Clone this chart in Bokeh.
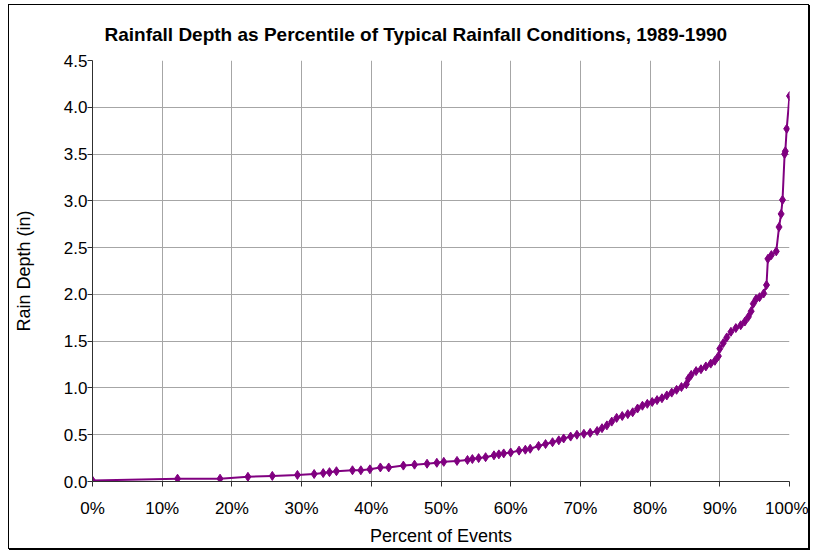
from bokeh.plotting import figure
from bokeh.models import FixedTicker, ColumnDataSource, Range1d
from bokeh.embed import file_html
from bokeh.resources import INLINE

title_text = "Rainfall Depth as Percentile of Typical Rainfall Conditions, 1989-1990"
x_label = "Percent of Events"
y_label = "Rain Depth (in)"

pct = [0.0, 12.2, 18.3, 22.3, 25.8, 29.4, 31.8, 33.1, 34.0, 35.0, 37.3, 38.5, 39.8,
       41.3, 42.5, 44.6, 46.2, 48.0, 49.4, 50.4, 52.3, 53.8, 54.5, 55.4, 56.4, 57.6,
       58.3, 59.0, 60.0, 61.2, 62.1, 62.8, 64.0, 65.0, 66.0, 66.9, 67.6, 68.6, 69.5,
       70.5, 71.4, 72.4, 73.1, 73.8, 74.5, 75.2, 76.0, 76.8, 77.5, 78.2, 78.9, 79.6,
       80.3, 81.0, 81.7, 82.4, 83.1, 83.8, 84.5, 85.2, 85.5, 85.9, 86.6, 87.3, 88.0,
       88.7, 89.3, 89.8, 90.0, 90.5, 91.0, 91.6, 92.3, 93.0, 93.6, 94.1, 94.5, 94.8,
       95.2, 95.7, 96.3, 96.7, 96.9, 97.4, 98.1, 98.5, 98.8, 99.0, 99.3, 99.4, 99.6,
       100.0]
depth = [0.01, 0.03, 0.03, 0.05, 0.06, 0.07, 0.08, 0.09, 0.10, 0.11, 0.12, 0.12, 0.13,
         0.15, 0.15, 0.17, 0.18, 0.19, 0.20, 0.21, 0.22, 0.23, 0.24, 0.25, 0.26, 0.28,
         0.29, 0.30, 0.31, 0.33, 0.34, 0.35, 0.38, 0.40, 0.42, 0.44, 0.46, 0.48, 0.50,
         0.51, 0.52, 0.54, 0.57, 0.60, 0.64, 0.68, 0.70, 0.72, 0.74, 0.78, 0.81, 0.83,
         0.85, 0.87, 0.89, 0.92, 0.95, 0.98, 1.01, 1.04, 1.10, 1.14, 1.18, 1.20, 1.23,
         1.26, 1.29, 1.34, 1.42, 1.48, 1.54, 1.60, 1.64, 1.67, 1.71, 1.76, 1.82, 1.90,
         1.95, 1.97, 2.01, 2.10, 2.38, 2.42, 2.46, 2.72, 2.86, 3.01, 3.50, 3.53, 3.77,
         4.12]

x_ticks = [0, 10, 20, 30, 40, 50, 60, 70, 80, 90, 100]
x_tick_labels = ["0%", "10%", "20%", "30%", "40%", "50%", "60%", "70%", "80%", "90%", "100%"]
y_ticks = [0.0, 0.5, 1.0, 1.5, 2.0, 2.5, 3.0, 3.5, 4.0, 4.5]
y_tick_labels = ["0.0", "0.5", "1.0", "1.5", "2.0", "2.5", "3.0", "3.5", "4.0", "4.5"]

FONT = "Liberation Sans"
PURPLE = "#800080"

p = figure(width=801, height=545, output_backend="svg", toolbar_location=None,
           x_range=Range1d(0, 100), y_range=Range1d(0, 4.5),
           min_border_left=83, min_border_right=21, min_border_top=40, min_border_bottom=69,
           title=title_text)
p.styles = {"border": "1px solid black", "margin": "4px 0 0 8px",
            "box-shadow": "1px 1px 0 black"}
p.outline_line_color = None
p.background_fill_color = "white"
p.border_fill_color = "white"

p.title.text_font = FONT
p.title.text_font_size = "19px"
p.title.text_font_style = "bold"
p.title.text_color = "black"
p.title.align = "left"
p.title.offset = 12
p.title.standoff = 32

src = ColumnDataSource(dict(x=pct, y=depth))
p.line("x", "y", source=src, line_color=PURPLE, line_width=2)
p.scatter("x", "y", source=src, marker="diamond", size=9, fill_color=PURPLE, line_color=PURPLE)

p.xaxis.ticker = FixedTicker(ticks=x_ticks)
p.xaxis.major_label_overrides = {t: l for t, l in zip(x_ticks, x_tick_labels)}
p.yaxis.ticker = FixedTicker(ticks=y_ticks)
p.yaxis.major_label_overrides = {t: l for t, l in zip(y_ticks, y_tick_labels)}

for ax in (p.xaxis[0], p.yaxis[0]):
    ax.axis_line_color = "#303030"
    ax.axis_line_width = 1
    ax.major_tick_line_color = "#303030"
    ax.major_tick_out = 5
    ax.major_tick_in = 0
    ax.minor_tick_line_color = None
    ax.major_label_text_font = FONT
    ax.major_label_text_font_size = "17px"
    ax.major_label_text_color = "black"
    ax.axis_label_text_font = FONT
    ax.axis_label_text_font_size = "18px"
    ax.axis_label_text_font_style = "normal"
    ax.axis_label_text_color = "black"

p.xaxis.axis_label = x_label
p.yaxis.axis_label = y_label
p.xaxis.major_label_standoff = 12
p.xaxis.axis_label_standoff = 5
p.yaxis.major_label_standoff = 0
p.yaxis.axis_label_standoff = 27

p.xgrid.ticker = FixedTicker(ticks=x_ticks)
p.ygrid.ticker = FixedTicker(ticks=y_ticks)
p.grid.grid_line_color = "#a6a6a6"
p.grid.grid_line_width = 1
p.grid.grid_line_alpha = 1.0

open("out.html", "w").write(file_html(p, INLINE))
